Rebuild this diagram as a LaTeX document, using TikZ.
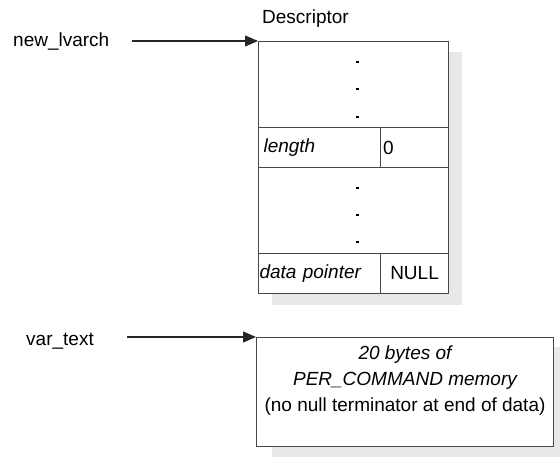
\documentclass[tikz,border=0pt]{standalone}
\usepackage{fontspec}
\setmainfont{Liberation Sans}
\usetikzlibrary{arrows.meta}
\begin{document}
\begin{tikzpicture}[x=1pt,y=-1pt,
  lbl/.style={font=\fontsize{19}{23}\selectfont, inner sep=0pt},
  box/.style={draw=black!72, line width=1.1pt, inner sep=0pt},
  cell/.style={box, anchor=north west, minimum height=40pt, font=\fontsize{19}{23}\selectfont, align=left},
  shad/.style={fill=black!9, draw=none},
  ptr/.style={draw=black!85, line width=1.1pt, -{Triangle[length=13pt,width=11pt]}},
  dotmark/.style={fill=black}
]
\useasboundingbox (0,0) rectangle (560,457);

% shadows
\fill[shad] (272,52) rectangle (462,305);
\fill[shad] (272,347) rectangle (570,460);

% descriptor structure
\node[box, fill=white, anchor=north west, minimum width=190pt, minimum height=252pt] (desc) at (258,41) {};
\node[cell, minimum width=122pt, text width=112pt, inner xsep=5pt] (lenname) at (258,127) {\itshape length};
\node[cell, minimum width=68pt, text width=63pt, inner xsep=2.5pt] (lenval) at (380,127) {0};
\node[cell, minimum width=122pt, text width=120pt, inner xsep=1pt] (dpname) at (258,253) {\itshape data pointer};
\node[cell, minimum width=68pt, align=center, inner xsep=0pt] (dpval) at (380,253) {NULL};

% ellipsis dots
\foreach \yy in {61,88,116,187,214,241}
  \fill[dotmark] (356,\yy) rectangle (358.5,\yy+2.5);

\node[lbl, anchor=base west] (desclbl) at (262,23.5) {Descriptor};

% memory block
\node[box, fill=white, anchor=north west, minimum width=297pt, minimum height=109pt] (mem) at (256,337) {};
\node[font=\fontsize{19}{26}\selectfont, align=center, inner sep=0pt] (memtext) at (405,381)
  {{\itshape 20 bytes of}\\{\itshape PER\_COMMAND memory}\\(no null terminator at end of data)};

% labels and pointers
\node[lbl, anchor=base west] (newl) at (13,47) {new\_lvarch};
\node[lbl, anchor=base west] (vart) at (26,345) {var\_text};
\coordinate (newlstart) at (132,41);
\coordinate (vartstart) at (127,337);
\draw[ptr] (newlstart) -- (desc.north west);
\draw[ptr] (vartstart) -- (mem.north west);
\end{tikzpicture}
\end{document}
